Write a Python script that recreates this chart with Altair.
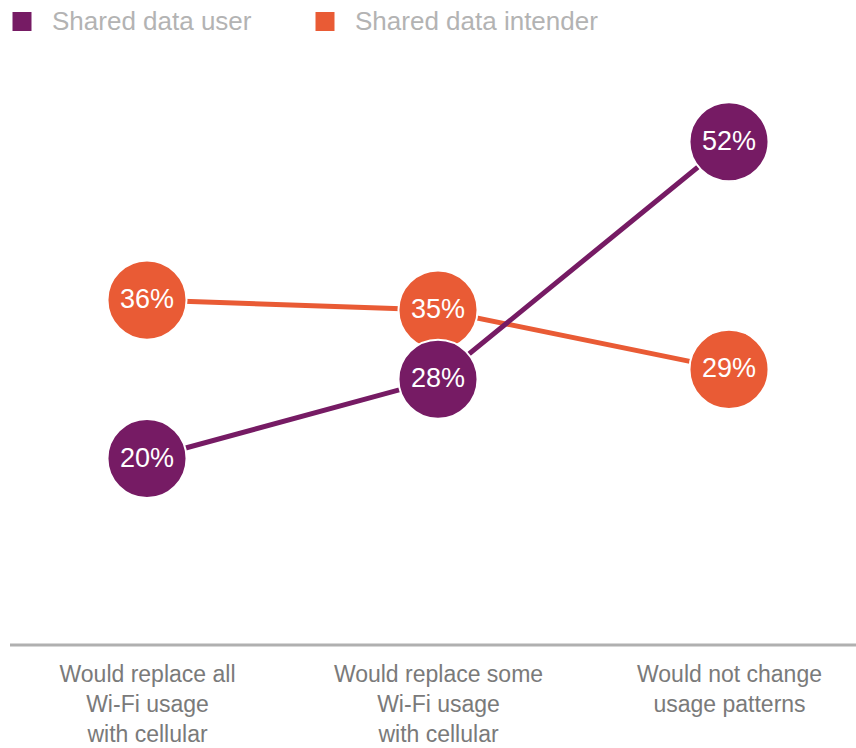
import altair as alt
import pandas as pd

categories = [
    "Would replace all|Wi-Fi usage|with cellular",
    "Would replace some|Wi-Fi usage|with cellular",
    "Would not change|usage patterns",
]
series_names = ["Shared data user", "Shared data intender"]
user_values = [20, 28, 52]
intender_values = [36, 35, 29]

PURPLE = "#761b64"
ORANGE = "#e95b35"
FONT = "Liberation Sans"

rows = []
for c, v in zip(categories, user_values):
    rows.append({"category": c, "value": v, "series": series_names[0], "label": f"{v}%"})
for c, v in zip(categories, intender_values):
    rows.append({"category": c, "value": v, "series": series_names[1], "label": f"{v}%"})
df = pd.DataFrame(rows)

x_enc = alt.X(
    "category:N",
    sort=categories,
    scale=alt.Scale(type="point", range=[137, 719], padding=0),
    axis=alt.Axis(
        title=None,
        domain=False,
        ticks=False,
        labelAngle=0,
        labelExpr="split(datum.label, '|')",
        labelFont=FONT,
        labelFontSize=23,
        labelColor="#7a7a7a",
        labelLineHeight=30,
        labelPadding=7,
        labelLimit=400,
    ),
)
y_enc = alt.Y("value:Q", scale=alt.Scale(domain=[0, 60]), axis=None)
color_enc = alt.Color(
    "series:N",
    scale=alt.Scale(domain=series_names, range=[PURPLE, ORANGE]),
    legend=alt.Legend(
        title=None,
        orient="none",
        legendX=-1,
        legendY=-54,
        direction="horizontal",
        symbolType="square",
        symbolSize=361,
        symbolStrokeWidth=0,
        symbolOpacity=1,
        labelFont=FONT,
        labelFontSize=26,
        labelColor="#b3b3b3",
        labelOffset=17,
        labelLimit=400,
        columnPadding=60,
    ),
)

base = alt.Chart(df).encode(x=x_enc, y=y_enc)

def series_layers(name, col):
    b = base.transform_filter(alt.datum.series == name)
    line = b.mark_line(color=col, strokeWidth=5)
    pts = b.mark_circle(size=6250, opacity=1, stroke="white", strokeWidth=2).encode(color=color_enc)
    txt = b.mark_text(color="white", font=FONT, fontSize=27).encode(text="label:N")
    return [line, pts, txt]

axis_line = alt.Chart(pd.DataFrame({"a": [0]})).mark_rule(color="#b0b0b0", strokeWidth=3).encode(
    x=alt.value(0), x2=alt.value(846), y=alt.value(582.5)
)

chart = alt.layer(
    axis_line,
    *series_layers(series_names[1], ORANGE),
    *series_layers(series_names[0], PURPLE),
).properties(
    width=846,
    height=594,
    autosize=alt.AutoSizeParams(type="none"),
    padding={"left": 10, "top": 62.5, "right": 0, "bottom": 91.5},
).configure_view(stroke=None)

chart.save("out.html", embed_options={"renderer": "svg", "actions": False})
